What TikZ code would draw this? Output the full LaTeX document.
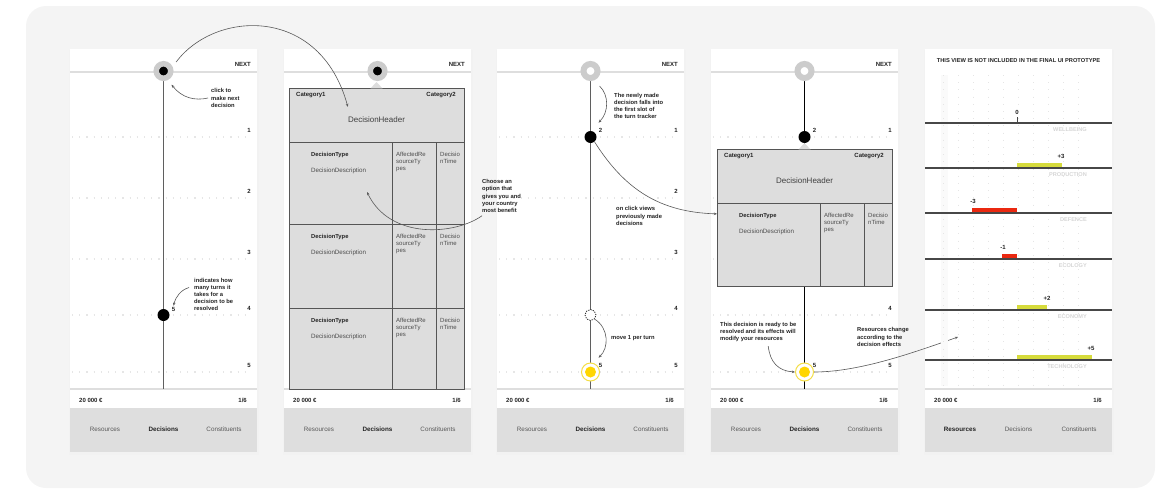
\documentclass[tikz,border=0pt]{standalone}
\usepackage{fontspec}
\setmainfont{Liberation Sans}
\usetikzlibrary{arrows.meta}
\definecolor{panel}{RGB}{244,244,244}
\definecolor{rule}{RGB}{222,222,222}
\definecolor{tabbar}{RGB}{222,222,222}
\definecolor{cardfill}{RGB}{221,221,221}
\definecolor{cardline}{RGB}{85,85,85}
\definecolor{track}{RGB}{95,95,95}
\definecolor{ringgray}{RGB}{204,204,204}
\definecolor{faint}{RGB}{214,214,214}
\definecolor{dotrow}{RGB}{230,230,230}
\definecolor{gain}{RGB}{214,219,60}
\definecolor{loss}{RGB}{234,40,16}
\definecolor{ready}{RGB}{255,214,0}
\definecolor{readyring}{RGB}{244,222,70}
\definecolor{ink}{RGB}{35,35,35}
\tikzset{
  note/.style={font=\fontsize{5.8}{7.2}\selectfont\bfseries, align=left, anchor=west, inner sep=0pt, text=ink},
  num/.style={font=\fontsize{6}{7}\selectfont\bfseries, inner sep=0pt, text=ink},
  tab/.style={font=\fontsize{6.3}{7}\selectfont, inner sep=0pt, text=black!65},
  tabon/.style={font=\fontsize{6.3}{7}\selectfont\bfseries, inner sep=0pt, text=ink},
  cell/.style={font=\fontsize{6}{7}\selectfont, align=left, inner sep=0pt, text=black!70},
  card/.style={draw=cardline, fill=cardfill, line width=0.8pt, inner sep=0pt, minimum width=175pt, anchor=north west},
  pointer/.style={draw=black!65, line width=0.6pt, -{Stealth[length=3.2pt,width=2.6pt]}},
  rowline/.style={dotrow, line width=1.2pt, dash pattern=on 1.2pt off 6pt},
  griddots/.style={black!10, line width=0.9pt, dash pattern=on 0.9pt off 6.3pt},
  topdot/.style={circle, draw=ringgray, line width=5.5pt, fill=black, minimum size=14.5pt, inner sep=0pt},
  topring/.style={circle, draw=ringgray, line width=6pt, fill=white, minimum size=14pt, inner sep=0pt},
  slot/.style={circle, fill=black, minimum size=12pt, inner sep=0pt},
  ghost/.style={circle, draw=black, dash pattern=on 1.2pt off 1.2pt, fill=white, line width=0.7pt, minimum size=11pt, inner sep=0pt},
  halo/.style={circle, draw=readyring, line width=1pt, fill=white, minimum size=18pt, inner sep=0pt},
  core/.style={circle, fill=ready, minimum size=11pt, inner sep=0pt},
  axis/.style={black!72, line width=1.3pt},
  area/.style={font=\fontsize{5.6}{7}\selectfont\bfseries, text=faint, inner sep=0pt, anchor=east}
}
\begin{document}
\begin{tikzpicture}[x=1pt,y=-1pt]
\useasboundingbox (0,0) rectangle (1172,493);
\fill[panel,rounded corners=20pt] (26,6) rectangle (1155,488);
\foreach \px/\ra/\da in {70/tab/tabon,284/tab/tabon,497/tab/tabon,711/tab/tabon,925/tabon/tab}{
  \fill[black!5] (\px-1.5,49.5) rectangle (\px+188.5,454.5);
  \fill[white] (\px,49) rectangle (\px+187,408);
  \fill[tabbar] (\px,408) rectangle (\px+187,452);
  \draw[rule,line width=1.6pt] (\px,389) -- (\px+187,389);
  \node[num,anchor=west] (cash\px) at (\px+9,400) {20 000 €};
  \node[num,anchor=east] (turn\px) at (\px+177,400) {1/6};
  \node[\ra] (res\px) at (\px+35,429.5) {Resources};
  \node[\da] (dec\px) at (\px+93.5,429.5) {Decisions};
  \node[tab] (con\px) at (\px+154,429.5) {Constituents};
}
\foreach \px in {70,284,497,711}{
  \draw[rule,line width=1.6pt] (\px,72) -- (\px+187,72);
  \node[num,anchor=east] (next\px) at (\px+181,64) {NEXT};
}
\foreach \px in {70,497,711}{
  \foreach \ry/\k in {137/1,198/2,259/3,315/4,372/5}{
    \draw[rowline] (\px+2,\ry) -- (\px+181,\ry);
    \node[num] (row\px\k) at (\px+179,\ry-7) {\k};
  }
}
\draw[track,line width=1.5pt] (163.5,71) -- (163.5,389);
\node[topdot] (top1) at (163.5,71) {};
\node[slot] (slot1) at (163.5,315) {};
\node[num] (five1) at (173.5,309) {5};
\node[note] (clicknote) at (211,98) {click to\\make next\\decision};
\node[note] (turnsnote) at (194,294.5) {indicates how\\many turns it\\takes for a\\decision to be\\resolved};
\draw[pointer] ([xshift=-3pt]clicknote.west) .. controls (195,101) and (182,98) .. ([shift={(3pt,-5pt)}]top1.-60);
\draw[pointer] ([shift={(-5pt,7pt)}]turnsnote.west) .. controls (181,290) and (176,296) .. ([yshift=1pt]five1.north);
\node[topdot] (top2) at (377.5,71) {};
\draw[track,line width=1.5pt] (590.5,71) -- (590.5,389);
\node[topring] (top3) at (590.5,71) {};
\node[slot] (slot3) at (590.5,137) {};
\node[num] (two3) at (600.5,130) {2};
\node[ghost] (ghost3) at (590.5,315) {};
\node[halo] (halo3) at (590.5,372) {};
\node[core] (core3) at (590.5,372) {};
\node[num] (five3) at (600.5,365) {5};
\draw[black,line width=1.2pt] (804.5,71) -- (804.5,389);
\node[topring] (top4) at (804.5,71) {};
\node[slot] (slot4) at (804.5,137) {};
\node[num] (two4) at (814.5,130) {2};
\foreach \cn/\cl/\ct/\ch in {2/289/88/301,4/717/149/137}{
  \node[card, minimum height=\ch] (card\cn) at (\cl,\ct) {};
  \fill[cardfill] (\cl+81.5,\ct+0.4) -- (\cl+87.5,\ct-6) -- (\cl+93.5,\ct+0.4) -- cycle;
  \node[num,anchor=west] (cata\cn) at (\cl+7,\ct+7) {Category1};
  \node[num,anchor=east] (catb\cn) at (\cl+167,\ct+7) {Category2};
  \node[font=\fontsize{8}{9}\selectfont, text=black!75, inner sep=0pt] (head\cn) at (\cl+87.5,\ct+32) {DecisionHeader};
  \draw[cardline,line width=0.8pt] (\cl+103,\ct+54) -- (\cl+103,\ct+\ch) (\cl+147,\ct+54) -- (\cl+147,\ct+\ch);
}
\foreach \cn/\cl/\ry in {2/289/142,2/289/224,2/289/308,4/717/203}{
  \draw[cardline,line width=0.8pt] (\cl,\ry) -- (\cl+175,\ry);
  \node[num,anchor=west,font=\fontsize{5.8}{7}\selectfont\bfseries] (type\cn\ry) at (\cl+22,\ry+13) {DecisionType};
  \node[cell,anchor=west,font=\fontsize{6.2}{7}\selectfont] (desc\cn\ry) at (\cl+22,\ry+29) {DecisionDescription};
  \node[cell,anchor=north west] (kind\cn\ry) at (\cl+107,\ry+9.5) {AffectedRe\\sourceTy\\pes};
  \node[cell,anchor=north west] (time\cn\ry) at (\cl+151,\ry+9.5) {Decisio\\nTime};
}
\node[halo] (halo4) at (804.5,372) {};
\node[core] (core4) at (804.5,372) {};
\node[num] (five4) at (814.5,365) {5};
\coordinate (optpick) at (367,192);
\coordinate (flow5) at (958,337);
\node[note] (choosenote) at (482,196) {Choose an\\option that\\gives you and\\your country\\most benefit};
\node[note] (fallnote) at (614,106) {The newly made\\decision falls into\\the first slot of\\the turn tracker};
\node[note] (viewnote) at (616,216) {on click views\\previously made\\decisions};
\node[note] (movenote) at (611,338) {move 1 per turn};
\node[note] (readynote) at (720,332) {This decision is ready to be\\resolved and its effects will\\modify your resources};
\node[note] (changenote) at (857,337) {Resources change\\according to the\\decision effects};
\draw[pointer] ([shift={(4pt,4pt)}]top1.30) .. controls (215,10) and (320,5) .. ([yshift=10pt]head2.north west);
\draw[pointer] ([yshift=-3pt]choosenote.south west) .. controls (455,235) and (390,240) .. (optpick);
\draw[pointer] ([shift={(2pt,-8pt)}]top3.south east) .. controls (609,95) and (609,112) .. ([shift={(-2pt,5pt)}]two3.north);
\draw[pointer] (slot3.-50) .. controls (625,190) and (660,212) .. ([yshift=4pt]card4.west);
\draw[pointer] (ghost3.south east) .. controls (609,328) and (609,348) .. ([shift={(-2pt,5pt)}]five3.north);
\draw[pointer] ([shift={(10pt,-4pt)}]readynote.south) .. controls (770,362) and (778,371) .. (halo4.west);
\draw[pointer] (halo4.east) .. controls (860,372) and (915,352) .. (flow5);
\node[num,font=\fontsize{5.7}{7}\selectfont\bfseries] (title5) at (1018.5,61) {THIS VIEW IS NOT INCLUDED IN THE FINAL UI PROTOTYPE};
\fill[black!2] (941,75) rectangle (948,386);
\foreach \gx in {943,958,...,1092} \draw[griddots] (\gx,75) -- (\gx,386);
\foreach \ay/\bx/\lx/\c/\v in {168/1062/1061/gain/+3,213/972/973/loss/-3,259/1002/1003/loss/-1,310/1047/1047/gain/+2,360/1092/1091/gain/+5}{
  \fill[\c] (1017,\ay-5.5) rectangle (\bx,\ay);
  \node[num] (val\ay) at (\lx,\ay-12) {\v};
}
\draw[black!72,line width=1pt] (1017,117) -- (1017,123);
\node[num] (val123) at (1017,112) {0};
\foreach \ay/\area in {123/WELLBEING,168/PRODUCTION,213/DEFENCE,259/ECOLOGY,310/ECONOMY,360/TECHNOLOGY}{
  \draw[axis] (925,\ay) -- (1112,\ay);
  \node[area] (\area) at (1087,\ay+7) {\area};
}
\end{tikzpicture}
\end{document}
